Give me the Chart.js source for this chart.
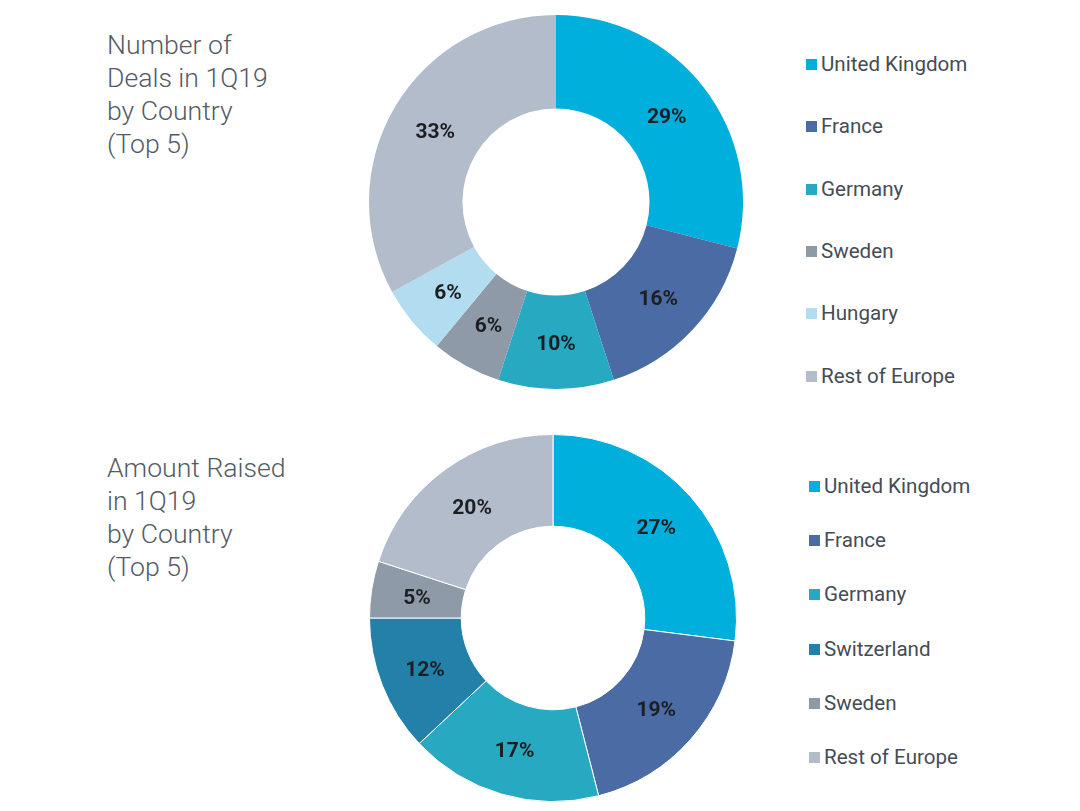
<!DOCTYPE html>
<html>
<head>
<meta charset="utf-8">
<script src="https://cdn.jsdelivr.net/npm/chart.js@4/dist/chart.umd.min.js"></script>
<style>
  html, body { margin: 0; padding: 0; background: #fff; overflow: hidden; }
  body { width: 1080px; height: 811px; position: relative; font-family: Roboto, 'Noto Sans', sans-serif; }
  .titulo { position: absolute; left: 107px; font-size: 26.6px; line-height: 33px; color: #535b66; font-weight: 300; }
  .legenda { position: absolute; color: #464c55; font-size: 20.6px; }
  .legenda div { position: absolute; white-space: nowrap; line-height: 24px; }
  .legenda span { display: inline-block; width: 11px; height: 11px; margin-right: 4px; vertical-align: 1px; }
  canvas { position: absolute; }
</style>
</head>
<body>
<div class="titulo" id="titulo1" style="top:28px"></div>
<div class="titulo" id="titulo2" style="top:451px"></div>
<div class="legenda" id="legenda1" style="left:806px; top:52px"></div>
<div class="legenda" id="legenda2" style="left:809px; top:474px"></div>
<canvas id="graficoNegocios" width="400" height="400" style="left:356px; top:2px"></canvas>
<canvas id="graficoValor" width="400" height="400" style="left:353px; top:418px"></canvas>
<script>
// Dados
const titulo1 = ['Number of', 'Deals in 1Q19', 'by Country', '(Top 5)'];
const titulo2 = ['Amount Raised', 'in 1Q19', 'by Country', '(Top 5)'];

const paisesNegocios = ['United Kingdom', 'France', 'Germany', 'Sweden', 'Hungary', 'Rest of Europe'];
const valoresNegocios = [29, 16, 10, 6, 6, 33];
const coresNegocios = ['#00afdb', '#4a6ba4', '#27a9c2', '#8e9aa8', '#b2ddf1', '#b3bccb'];

const paisesValor = ['United Kingdom', 'France', 'Germany', 'Switzerland', 'Sweden', 'Rest of Europe'];
const valoresValor = [27, 19, 17, 12, 5, 20];
const coresValor = ['#00afdb', '#4a6ba4', '#27a9c2', '#2380a8', '#8e9aa8', '#b3bccb'];

// Títulos e legendas em HTML
function montarTitulo(id, linhas) {
  document.getElementById(id).innerHTML = linhas.join('<br>');
}

function montarLegenda(id, nomes, cores, passo) {
  const el = document.getElementById(id);
  nomes.forEach((nome, i) => {
    const item = document.createElement('div');
    item.style.top = (i * passo) + 'px';
    item.innerHTML = `<span style="background:${cores[i]}"></span>${nome}`;
    el.appendChild(item);
  });
}

montarTitulo('titulo1', titulo1);
montarTitulo('titulo2', titulo2);
montarLegenda('legenda1', paisesNegocios, coresNegocios, 62.3);
montarLegenda('legenda2', paisesValor, coresValor, 54.2);

// Rótulos de porcentagem dentro das fatias
const rotulosPlugin = {
  id: 'rotulos',
  afterDatasetsDraw(chart) {
    const ctx = chart.ctx;
    const meta = chart.getDatasetMeta(0);
    ctx.save();
    ctx.font = 'bold 21px Roboto, sans-serif';
    ctx.fillStyle = '#1c1e22';
    ctx.textAlign = 'center';
    ctx.textBaseline = 'middle';
    meta.data.forEach((arc, i) => {
      const pos = arc.tooltipPosition();
      ctx.fillText(chart.data.datasets[0].data[i] + '%', pos.x, pos.y + 2);
    });
    ctx.restore();
  }
};

function criarRosca(id, labels, data, cores, padding, borda) {
  const ctx = document.getElementById(id).getContext('2d');
  return new Chart(ctx, {
    type: 'doughnut',
    data: {
      labels,
      datasets: [{
        data,
        backgroundColor: cores,
        borderColor: '#ffffff',
        borderWidth: borda
      }]
    },
    options: {
      responsive: false,
      animation: false,
      cutout: '50%',
      layout: { padding },
      plugins: {
        legend: { display: false },
        tooltip: { enabled: false }
      }
    },
    plugins: [rotulosPlugin]
  });
}

criarRosca('graficoNegocios', paisesNegocios, valoresNegocios, coresNegocios, 13, 0);
criarRosca('graficoValor', paisesValor, valoresValor, coresValor, 16, 1);
</script>
</body>
</html>
